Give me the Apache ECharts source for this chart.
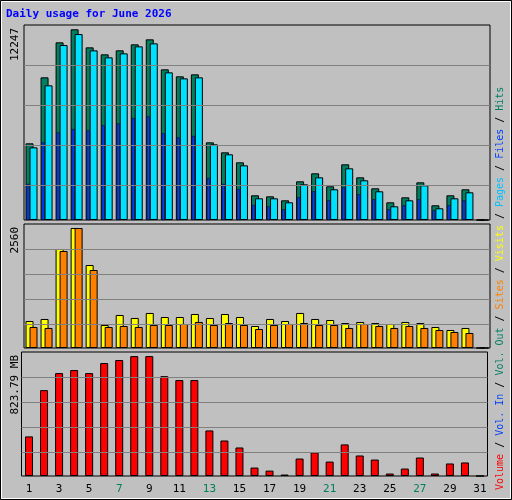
<!DOCTYPE html>
<html><head><meta charset="utf-8">
<script src="https://cdn.jsdelivr.net/npm/echarts@6/dist/echarts.min.js"></script>
<style>html,body{margin:0;padding:0;background:#c0c0c0}#c{width:512px;height:500px}</style>
</head><body><div id="c"></div>
<script>
const days = Array.from({length:31},(_,i)=>String(i+1));
const weekendDays = ['6','7','13','14','20','21','27','28'];
const hits  = [4924,9161,11408,12247,11087,10638,10895,11280,11601,9675,9226,9354,4988,4346,3704,1586,1521,1265,2485,2998,2164,3576,2741,2035,1136,1457,2420,944,1586,1971,0];
const files = [4667,8648,11235,11941,10895,10445,10702,11152,11344,9482,9097,9161,4860,4218,3512,1393,1393,1136,2292,2741,1971,3319,2549,1843,880,1265,2228,751,1393,1778,0];
const pages = [2311,4988,5630,5842,5759,6080,6208,6548,6658,5566,5309,5393,2696,2311,1990,963,880,687,1457,1843,1265,2099,1650,1329,687,944,1329,623,944,1265,0];
const visits= [576,619,2112,2560,1770,491,704,640,747,661,661,725,640,725,661,469,619,576,747,619,597,533,555,533,512,555,533,448,384,427,0];
const sites = [448,427,2069,2560,1664,448,469,448,491,491,512,555,491,533,491,405,491,512,533,491,491,427,512,469,427,469,427,384,341,320,0];
const volume= [272,590,707,728,707,776,797,823.79,823.79,686,659,659,313,244,196,58,37,10,120,162,99,217,141,113,17,51,127,17,86,93,0];
const topLabels = ['12247','2560','823.79 MB'];
const gridTop = [2248,4818,7386,9956], gridMid=[512,1045,1579,2112], gridBot=[161.6,334.2,506.8,679.5];

const chart = echarts.init(document.getElementById('c'));
const mono = 'DejaVu Sans Mono';
const W = 466;
const grids = [
 {left:24,top:25,width:W,height:195},
 {left:20.5,top:25,width:W,height:195},
 {left:24,top:224,width:W,height:124},
 {left:21.5,top:352,width:W,height:124}
];
grids.forEach((g,i)=>{ g.show = i!==1; g.backgroundColor='#c0c0c0'; g.borderColor='#000'; g.borderWidth=1; });
const maxes=[12523,12523,2645,852];
const xAxis = grids.map((g,i)=>({type:'category',gridIndex:i,data:days,
  axisLine:{show:false},axisTick:{show:false},
  axisLabel:{show:i===3,fontFamily:mono,fontSize:11,margin:8,
    color:(v)=>weekendDays.includes(v)?'#008060':'#000'},
  }));
const yAxis = grids.map((g,i)=>({type:'value',gridIndex:i,min:0,max:maxes[i],
  axisLine:{show:false},axisTick:{show:false},axisLabel:{show:false},splitLine:{show:false}}));
const ml = (vals)=>({silent:true,symbol:'none',label:{show:false},lineStyle:{color:'#808080',type:'solid',width:1},
  data:vals.map(v=>({yAxis:v}))});
const bs = (c)=>({color:c,borderColor:'#000',borderWidth:1});
const series = [
 {type:'bar',xAxisIndex:0,yAxisIndex:0,data:hits,barWidth:8,barGap:'-50%',itemStyle:bs('#008060'),markLine:ml(gridTop),z:1},
 {type:'bar',xAxisIndex:0,yAxisIndex:0,data:files,barWidth:8,barGap:'-50%',itemStyle:bs('#00e0ff'),z:3},
 {type:'bar',xAxisIndex:1,yAxisIndex:1,data:pages,barWidth:3,itemStyle:{color:'#0040ff',borderColor:'#000',borderWidth:0.5},z:2},
 {type:'bar',xAxisIndex:2,yAxisIndex:2,data:visits,barWidth:8,barGap:'-50%',itemStyle:bs('#ffff00'),markLine:ml(gridMid)},
 {type:'bar',xAxisIndex:2,yAxisIndex:2,data:sites,barWidth:8,barGap:'-50%',itemStyle:bs('#ff8000')},
 {type:'bar',xAxisIndex:3,yAxisIndex:3,data:volume,barWidth:8,itemStyle:bs('#ff0000'),markLine:ml(gridBot)}
];
const rt = (text,x,y)=>({type:'text',x:x,y:y,rotation:Math.PI/2,
  style:{text:text,fontFamily:mono,fontSize:11,fill:'#000',align:'right',verticalAlign:'middle'}});
const legendParts=[['Volume','#ff0000'],[' / ','#000'],['Vol. In','#0040ff'],[' / ','#000'],['Vol. Out','#008060'],[' / ','#000'],
 ['Sites','#ff8000'],[' / ','#000'],['Visits','#ffff00'],[' / ','#000'],['Pages','#00c0ff'],[' / ','#000'],['Files','#0040ff'],[' / ','#000'],['Hits','#008060']];
const rich={}; let txt='';
legendParts.forEach((p,i)=>{rich['r'+i]={fill:p[1],fontFamily:mono,fontSize:10}; txt+='{r'+i+'|'+p[0]+'}';});
chart.setOption({
 animation:false,backgroundColor:'#c0c0c0',
 grid:grids,xAxis:xAxis,yAxis:yAxis,series:series,
 graphic:[
  {type:'rect',shape:{x:0.5,y:0.5,width:511,height:499},style:{fill:'none',stroke:'#000',lineWidth:1}},
  {type:'rect',shape:{x:1.5,y:1.5,width:509,height:497},style:{fill:'none',stroke:'#fff',lineWidth:1}},
  {type:'text',x:6,y:9,style:{text:'Daily usage for June 2026',fontFamily:mono,fontWeight:'bold',fontSize:11,fill:'#0000ff'}},
  rt(topLabels[0],15,28),rt(topLabels[1],15,227),rt(topLabels[2],15,355),
  {type:'text',x:500,y:490,rotation:Math.PI/2,style:{text:txt,rich:rich,align:'left',verticalAlign:'middle'}}
 ]
});
</script></body></html>
